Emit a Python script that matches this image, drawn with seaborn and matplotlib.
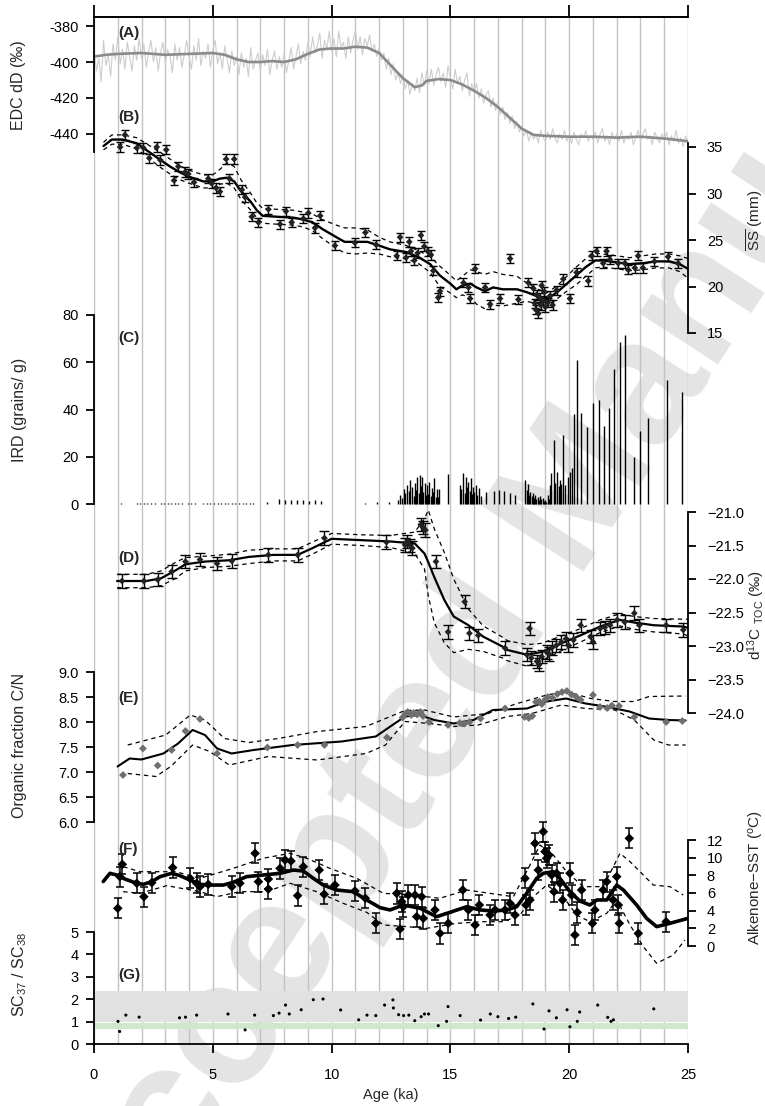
import numpy as np
import matplotlib
matplotlib.use('Agg')
import matplotlib.pyplot as plt
import seaborn as sns

# ---------------- DATA ----------------
# (A) EDC dD : smoothed curve and raw record (0.1 ka spacing)
a_age = [0, 0.5, 1, 2, 3, 4, 5, 5.5, 6, 6.5, 7, 7.5, 8, 8.5, 9, 9.5, 10, 10.5, 11, 11.5,
         12, 12.5, 13, 13.5, 13.8, 14, 14.5, 15, 15.5, 16, 16.5, 17, 17.5, 18, 18.5, 19,
         20, 21, 22, 23, 24, 25]
a_smooth = [-397, -396, -395.5, -395, -396, -395.5, -395, -396, -398.5, -400, -400, -399.5,
            -400, -398.5, -395.5, -393, -392.5, -392.5, -391.5, -392, -395, -402, -409, -414,
            -413, -410.5, -409.5, -410, -412.5, -416, -420, -425, -431, -437, -440.5, -441,
            -441.5, -441.5, -442, -441.5, -442.5, -444]
a_raw_step = 0.1
a_raw = [-392, -405, -398, -411, -388, -402, -396, -408, -390, -399,
         -386, -401, -393, -404, -389, -397, -405, -391, -399, -387,
         -398, -390, -403, -394, -388, -400, -392, -405, -395, -389,
         -401, -393, -397, -406, -390, -399, -392, -403, -396, -388,
         -397, -404, -391, -399, -387, -402, -394, -398, -390, -403,
         -393, -388, -401, -395, -404, -391, -398, -406, -394, -402,
         -397, -407, -395, -403, -398, -408, -392, -404, -399, -395,
         -405, -396, -402, -393, -407, -399, -394, -404, -397, -403,
         -395, -406, -399, -392, -404, -397, -390, -401, -394, -399,
         -389, -397, -386, -395, -391, -384, -398, -388, -393, -383,
         -394, -387, -397, -383, -392, -389, -398, -386, -395, -388,
         -382, -393, -386, -396, -387, -391, -385, -394, -390, -397,
         -392, -399, -395, -404, -398, -407, -401, -410, -406, -412,
         -407, -415, -410, -418, -412, -416, -409, -417, -406, -413,
         -405, -412, -404, -413, -407, -403, -411, -406, -414, -402,
         -409, -415, -404, -412, -408, -416, -410, -406, -419, -412,
         -417, -412, -420, -415, -423, -418, -416, -425, -420, -427,
         -422, -429, -425, -432, -428, -434, -430, -437, -433, -439,
         -436, -441, -438, -444, -439, -443, -440, -445, -438, -442,
         -444, -439, -443, -437, -442, -445, -440, -443, -438, -444,
         -441, -445, -439, -443, -446, -440, -442, -438, -444, -441,
         -443, -439, -445, -440, -437, -444, -441, -446, -439, -443,
         -440, -444, -438, -445, -441, -443, -439, -446, -442, -438,
         -444, -440, -437, -443, -441, -446, -439, -442, -445, -440,
         -443, -439, -446, -441, -444, -438, -445, -442, -447, -441, -444]

# (B) sortable silt mean
ss_age = [1.1, 1.3, 1.8, 2.08, 2.33, 2.64, 2.79, 3.04, 3.37, 3.55, 3.83, 3.97, 4.21, 4.81, 4.95,
          5.14, 5.3, 5.56, 5.7, 5.9, 6.22, 6.36, 6.64, 6.92, 7.34, 7.83, 8.08, 8.32, 8.81, 9.02,
          9.3, 9.52, 10.14, 10.98, 11.42, 11.87, 12.74, 12.88, 13.13, 13.27, 13.34, 13.48, 13.62,
          13.76, 13.9, 14.04, 14.18, 14.28, 14.49, 14.56, 15.55, 15.76, 15.83, 16.04, 16.46,
          16.67, 17.09, 17.51, 17.86, 18.28, 18.49, 18.55, 18.6, 18.63, 18.7, 18.75, 18.8, 18.84,
          18.9, 18.95, 19.0, 19.1, 19.2, 19.3, 19.47, 19.75, 20.03, 20.31, 20.8, 20.94, 21.15,
          21.43, 21.57, 21.71, 22.06, 22.34, 22.48, 22.76, 22.9, 23.1, 23.59, 24.16, 24.58]
ss_val = [35.0, 36.3, 34.9, 34.9, 33.8, 35.0, 33.6, 34.7, 31.4, 32.9, 32.3, 32.1, 31.2, 31.6, 31.1,
          30.6, 30.2, 33.7, 31.6, 33.7, 30.4, 29.6, 27.5, 26.9, 28.3, 26.7, 28.1, 26.9, 27.3, 27.9,
          26.3, 27.6, 24.4, 24.7, 25.8, 24.5, 23.3, 25.3, 23.1, 24.8, 23.8, 22.8, 23.6, 25.5, 24.3,
          23.8, 23.4, 21.7, 18.8, 19.5, 20.4, 19.9, 18.7, 21.9, 19.9, 18.1, 18.7, 23.0, 18.6, 20.4,
          19.8, 18.2, 17.5, 19.1, 17.1, 18.8, 18.0, 20.1, 18.5, 19.4, 17.8, 18.3, 19.0, 18.0, 19.6,
          20.8, 18.7, 21.5, 20.6, 23.3, 23.8, 22.5, 23.8, 22.9, 22.5, 22.5, 21.8, 22.0, 23.3, 22.0,
          22.7, 23.2, 22.5]
ss_err = 0.5
ssl_age = [0.4, 0.75, 1.2, 1.8, 2.3, 2.8, 3.2, 3.6, 4.0, 4.6, 5.0, 5.3, 5.6, 5.9, 6.2, 6.6, 6.85,
           7.1, 7.7, 8.4, 8.8, 9.2, 9.6, 10.2, 10.55, 11.0, 11.5, 12.0, 12.45, 13.15, 13.7, 14.15,
           14.55, 15.0, 15.25, 15.5, 15.85, 16.1, 16.45, 16.8, 17.2, 17.8, 18.2, 18.6, 19.05, 19.5,
           19.9, 20.3, 20.7, 21.1, 21.4, 22.0, 22.55, 23.1, 23.65, 24.2, 24.65, 25.0]
ssl_mid = [35.1, 35.8, 35.8, 35.4, 34.5, 33.6, 32.9, 32.3, 31.8, 31.3, 31.3, 31.6, 31.7, 31.3, 30.2,
           29.1, 28.2, 27.6, 27.5, 27.4, 27.2, 26.9, 26.2, 25.3, 24.8, 24.8, 24.8, 24.4, 24.0, 23.7,
           23.1, 22.4, 21.2, 20.3, 19.7, 20.1, 20.3, 19.9, 19.5, 19.9, 19.7, 19.7, 19.4, 19.0, 18.6,
           19.4, 20.3, 21.2, 22.1, 22.8, 22.8, 22.6, 22.4, 22.5, 22.7, 22.7, 22.4, 21.9]
ssl_hi = [35.5, 36.3, 36.3, 36.0, 35.2, 34.4, 33.7, 33.0, 32.5, 32.0, 32.0, 32.6, 33.3, 32.9, 31.4,
          30.0, 29.0, 28.4, 28.3, 28.2, 28.0, 27.8, 27.2, 26.6, 26.3, 26.3, 26.1, 25.3, 24.8, 24.4,
          23.8, 23.2, 22.2, 21.2, 20.6, 21.1, 21.8, 21.6, 21.3, 21.6, 21.3, 21.1, 20.4, 19.8, 19.3,
          20.1, 21.1, 22.1, 23.0, 23.6, 23.5, 23.3, 23.1, 23.3, 23.5, 23.5, 23.3, 23.0]
ssl_lo = [34.7, 35.3, 35.3, 34.8, 33.8, 32.8, 32.1, 31.5, 31.1, 30.6, 30.6, 31.0, 31.1, 30.6, 29.3,
          28.2, 27.4, 26.8, 26.7, 26.6, 26.4, 26.0, 25.2, 24.1, 23.6, 23.5, 23.6, 23.5, 23.2, 23.0,
          22.4, 21.5, 20.0, 19.3, 18.8, 19.1, 18.8, 18.1, 17.6, 18.0, 17.9, 18.2, 18.4, 18.2, 17.9,
          18.7, 19.5, 20.2, 21.1, 22.0, 22.1, 21.9, 21.7, 21.8, 22.0, 22.0, 21.6, 20.9]

# (C) IRD
ird_age = [1.15, 1.8, 1.95, 2.1, 2.25, 2.4, 2.55, 2.8, 2.95, 3.1, 3.25, 3.4, 3.55, 3.7, 3.95, 4.1,
           4.25, 4.6, 4.75, 4.9, 5.05, 5.2, 5.35, 5.5, 5.65, 5.8, 5.95, 6.1, 6.25, 6.4, 6.55, 6.7,
           7.3, 7.8, 8.05, 8.3, 8.55, 8.8, 9.05, 9.3, 9.55, 11.4, 11.9, 12.4,
           12.78, 12.88, 12.95, 13.03, 13.11, 13.19, 13.25, 13.3, 13.4, 13.45, 13.5, 13.55, 13.6,
           13.66, 13.71, 13.76, 13.81, 13.86, 13.91, 13.96, 14.02, 14.07, 14.12, 14.17, 14.22,
           14.27, 14.32, 14.38, 14.43, 14.48, 14.53,
           14.9, 15.39, 15.45, 15.51, 15.6, 15.66, 15.71, 15.76, 15.81, 15.86, 15.91, 15.96, 16.01,
           16.07, 16.14, 16.21, 16.3, 16.48, 16.85, 17.05, 17.26, 17.51, 17.71,
           18.16, 18.21, 18.27, 18.32, 18.37, 18.42, 18.47, 18.52, 18.57, 18.62, 18.68, 18.73,
           18.78, 18.83, 18.88, 18.93, 18.98, 19.03, 19.09, 19.14, 19.19, 19.25, 19.36, 19.42,
           19.5, 19.55, 19.6, 19.66, 19.72, 19.83, 19.93, 20.03, 20.12, 20.22, 20.34, 20.51,
           20.77, 21.0, 21.25, 21.47, 21.68, 21.88, 22.13, 22.33, 22.74, 22.97, 23.32, 24.1, 24.76]
ird_val = [0.6, 0.5, 0.6, 0.5, 0.6, 0.5, 0.6, 0.5, 0.6, 0.5, 0.6, 0.5, 0.6, 0.5, 0.6, 0.5,
           0.6, 0.5, 0.6, 0.5, 0.6, 0.5, 0.6, 0.5, 0.6, 0.5, 0.6, 0.5, 0.6, 0.5, 0.6, 0.5,
           0.8, 2.0, 1.6, 1.8, 1.5, 1.9, 1.4, 1.7, 1.3, 0.6, 0.7, 0.8,
           1.7, 3.8, 2.5, 6.3, 4.5, 8.0, 5.5, 10.2, 7.2, 3.5, 9.0, 6.0, 11.4,
           4.8, 12.3, 7.5, 11.4, 5.2, 9.0, 3.9, 8.0, 4.4, 9.3, 3.3, 6.8,
           5.0, 11.0, 2.8, 6.3, 3.0, 6.3,
           12.7, 8.0, 6.5, 13.1, 4.5, 11.4, 7.0, 9.3, 5.5, 11.0, 4.2, 7.2, 5.0,
           8.0, 4.0, 6.8, 3.5, 5.1, 5.5, 5.9, 5.5, 4.7, 3.8,
           10.2, 6.0, 8.5, 4.0, 5.1, 3.2, 4.7, 2.6, 3.8, 2.2, 3.0, 1.8,
           3.4, 2.0, 2.5, 1.2, 1.7, 1.0, 3.8, 2.2, 8.0, 13.0, 27.0, 9.0,
           13.5, 7.5, 10.2, 8.3, 29.0, 8.0, 11.4, 13.5, 15.2, 38.0, 61.0, 38.5,
           32.6, 42.7, 44.0, 33.0, 40.6, 57.0, 68.6, 71.5, 19.9, 30.9, 36.4, 52.5, 47.4]

# (D) d13C TOC
d13_age = [1.18, 2.1, 2.68, 3.27, 3.85, 4.46, 5.18, 5.8, 7.34, 8.57, 9.7, 12.31, 13.09, 13.19,
           13.3, 13.4, 13.75, 13.85, 13.95, 14.39, 14.9, 15.6, 15.8, 16.17, 17.3, 18.22, 18.33,
           18.4, 18.64, 18.74, 18.84, 19.05, 19.15, 19.26, 19.46, 19.67, 19.87, 19.97, 20.18,
           20.48, 20.9, 21.0, 21.3, 21.5, 21.72, 22.02, 22.33, 22.74, 22.95, 24.08, 24.8]
d13_val = [-22.03, -22.03, -22.01, -21.89, -21.74, -21.71, -21.77, -21.73, -21.64, -21.64,
           -21.39, -21.45, -21.49, -21.44, -21.50, -21.54, -21.19, -21.23, -21.27, -21.74,
           -22.79, -22.34, -22.81, -22.84, -23.03, -23.13, -22.74, -23.18, -23.23, -23.28,
           -23.16, -23.09, -23.12, -23.03, -22.99, -22.94, -22.89, -22.99, -22.91, -22.69,
           -22.86, -22.94, -22.74, -22.72, -22.69, -22.61, -22.64, -22.51, -22.69, -22.69, -22.76]
d13_err = 0.1
d13l_age = [0.97, 2.2, 2.82, 3.44, 3.85, 4.67, 5.7, 6.52, 7.55, 8.57, 9.19, 10.0, 11.24, 12.48,
            13.5, 13.91, 14.07, 14.32, 14.74, 15.14, 15.76, 16.38, 17.2, 17.4, 18.22, 18.84,
            19.67, 20.48, 21.3, 22.13, 22.74, 23.56, 24.8, 25.0]
d13l_mid = [-22.03, -22.03, -21.99, -21.87, -21.78, -21.74, -21.72, -21.67, -21.64, -21.64,
            -21.54, -21.40, -21.42, -21.44, -21.47, -21.62, -21.75, -21.97, -22.31, -22.56,
            -22.69, -22.86, -23.01, -23.06, -23.13, -23.09, -22.96, -22.84, -22.71, -22.61,
            -22.65, -22.69, -22.71, -22.73]
d13l_hi = [-21.93, -21.93, -21.88, -21.75, -21.68, -21.66, -21.63, -21.57, -21.55, -21.55,
           -21.45, -21.32, -21.34, -21.35, -21.30, -21.10, -20.97, -21.25, -21.6, -22.0,
           -22.45, -22.7, -22.87, -22.92, -22.98, -22.96, -22.85, -22.74, -22.61, -22.52,
           -22.56, -22.59, -22.6, -22.6]
d13l_lo = [-22.13, -22.13, -22.1, -21.99, -21.88, -21.83, -21.81, -21.77, -21.73, -21.73,
           -21.63, -21.48, -21.5, -21.53, -21.62, -21.85, -22.25, -22.65, -22.95, -23.1,
           -23.05, -23.08, -23.18, -23.22, -23.3, -23.22, -23.07, -22.94, -22.8, -22.7,
           -22.75, -22.79, -22.82, -22.85]

# (E) organic C/N
cn_age = [1.22, 2.06, 2.68, 3.27, 3.85, 4.46, 5.18, 7.3, 8.57, 9.7, 12.33, 12.99, 13.1, 13.2,
          13.35, 13.45, 13.6, 13.75, 13.85, 14.1, 14.9, 15.4, 15.6, 15.8, 16.27, 17.3, 18.12,
          18.3, 18.45, 18.6, 18.74, 18.85, 19.0, 19.1, 19.3, 19.5, 19.7, 19.9, 20.1, 20.3, 20.48,
          21.0, 21.3, 21.6, 21.8, 22.1, 22.74, 24.08, 24.76]
cn_val = [6.94, 7.47, 7.13, 7.44, 7.82, 8.06, 7.37, 7.49, 7.54, 7.54, 7.69, 8.09, 8.16, 8.2,
          8.14, 8.18, 8.15, 8.2, 8.12, 8.0, 7.94, 7.98, 7.97, 8.0, 8.07, 8.27, 8.1, 8.08, 8.12,
          8.4, 8.41, 8.36, 8.45, 8.5, 8.48, 8.56, 8.6, 8.62, 8.55, 8.5, 8.44, 8.54, 8.3, 8.28,
          8.33, 8.32, 8.1, 8.0, 8.02]
cnl_age = [0.99, 1.5, 2.0, 2.92, 3.54, 4.15, 4.67, 5.18, 5.79, 6.72, 8.36, 10.42, 11.86, 12.47,
           13.09, 13.71, 14.32, 15.14, 15.97, 16.79, 18.22, 19.05, 19.87, 20.69, 21.51, 22.54,
           23.36, 24.18, 24.9]
cnl_mid = [7.11, 7.27, 7.25, 7.37, 7.57, 7.84, 7.74, 7.47, 7.37, 7.44, 7.54, 7.61, 7.71, 7.91,
           8.11, 8.14, 8.04, 7.97, 8.04, 8.24, 8.27, 8.41, 8.47, 8.37, 8.31, 8.21, 8.07, 8.04, 8.03]
cnu_age = [1.42, 3.02, 4.05, 4.67, 5.49, 6.52, 7.75, 9.4, 11.45, 12.47, 13.09, 13.91, 15.14,
           16.58, 17.81, 19.05, 19.87, 20.9, 21.92, 22.74, 23.36, 24.9]
cnu_val = [7.54, 7.74, 8.14, 8.04, 7.67, 7.59, 7.67, 7.81, 7.91, 8.11, 8.23, 8.24, 8.1, 8.17,
           8.37, 8.54, 8.61, 8.47, 8.41, 8.41, 8.51, 8.52]
cnd_age = [1.42, 2.61, 3.23, 4.15, 4.87, 5.69, 7.34, 9.4, 11.45, 12.27, 13.09, 14.12, 15.14,
           16.17, 17.4, 18.43, 19.67, 20.69, 21.92, 22.74, 23.56, 24.18, 24.9]
cnd_val = [6.97, 6.91, 7.11, 7.54, 7.41, 7.14, 7.31, 7.24, 7.37, 7.54, 8.01, 7.97, 7.91, 7.94,
           8.11, 8.17, 8.34, 8.27, 8.24, 8.04, 7.64, 7.54, 7.54]

# (F) alkenone SST
sst_age = [1.0, 1.09, 1.19, 1.8, 2.1, 2.43, 3.31, 4.04, 4.32, 4.46, 4.81, 5.8, 6.14, 6.78, 6.92,
           7.34, 7.34, 7.83, 8.04, 8.29, 8.57, 8.81, 9.48, 9.69, 10.14, 10.98, 11.42, 11.86,
           12.74, 12.88, 12.95, 13.02, 13.23, 13.51, 13.58, 13.79, 13.86, 14.35, 14.56, 14.91,
           15.52, 15.76, 16.04, 16.22, 16.67, 16.88, 17.3, 17.51, 17.72, 18.14, 18.18, 18.35,
           18.56, 18.7, 18.91, 18.98, 19.05, 19.15, 19.26, 19.36, 19.47, 19.61, 19.72, 20.03,
           20.1, 20.24, 20.34, 20.52, 20.98, 21.08, 21.43, 21.58, 21.85, 22.0, 22.07, 22.11,
           22.53, 22.91, 24.08]
sst_val = [4.27, 7.85, 9.25, 7.1, 5.58, 7.17, 8.87, 7.66, 7.1, 6.72, 6.98, 6.72, 7.1, 10.49, 7.28,
           7.58, 6.45, 8.79, 9.74, 9.62, 5.7, 8.98, 8.6, 5.85, 6.9, 6.23, 5.4, 2.57, 5.96, 1.92,
           5.02, 4.45, 5.77, 5.77, 3.32, 5.58, 3.13, 4.08, 1.43, 2.57, 6.34, 4.08, 2.38, 4.64,
           3.51, 4.08, 4.08, 4.83, 3.51, 7.66, 4.64, 5.21, 11.62, 8.6, 12.94, 10.68, 9.93, 10.3,
           8.04, 6.15, 8.23, 7.1, 5.21, 8.23, 5.77, 1.25, 3.81, 6.34, 2.57, 4.08, 6.34, 7.28,
           5.21, 7.85, 4.64, 2.57, 12.19, 1.43, 2.75]
sst_err = 1.15
sstl_age = [0.39, 0.67, 0.95, 1.3, 1.8, 2.08, 2.43, 2.78, 3.27, 3.62, 4.04, 4.46, 4.88, 5.44,
            5.86, 6.42, 7.12, 7.83, 8.39, 8.81, 9.23, 9.65, 10.21, 10.91, 11.48, 12.04, 12.46,
            13.02, 13.72, 14.42, 14.98, 15.69, 16.25, 16.81, 17.37, 17.79, 18.21, 18.63, 18.91,
            19.33, 19.61, 20.03, 20.45, 20.87, 21.16, 21.58, 22.0, 22.28, 22.84, 23.26, 23.68,
            24.24, 25.0]
sstl_mid = [7.3, 8.23, 8.04, 7.58, 7.1, 6.98, 7.28, 7.85, 8.23, 7.96, 7.47, 6.98, 6.9, 6.9, 7.21,
            7.85, 8.04, 8.23, 8.6, 8.49, 7.66, 6.9, 6.34, 6.15, 5.21, 4.34, 4.08, 4.64, 4.27, 3.32,
            3.81, 4.45, 4.08, 3.96, 4.08, 4.45, 5.96, 7.66, 8.23, 8.41, 7.66, 6.15, 5.09, 4.64,
            5.21, 5.21, 6.9, 6.34, 4.64, 3.13, 2.19, 2.57, 3.13]
sstu_age = [1.23, 1.94, 3.45, 4.46, 5.86, 7.12, 8.25, 8.95, 9.93, 11.06, 12.18, 13.3, 14.56,
            15.69, 16.67, 17.65, 18.35, 18.77, 19.33, 19.89, 20.59, 21.43, 22.14, 22.56, 23.54,
            24.24, 24.8]
sstu_val = [8.98, 8.41, 8.41, 7.66, 8.79, 9.93, 10.49, 9.93, 8.79, 7.66, 5.96, 5.8, 5.4, 6.34,
            5.96, 5.58, 9.17, 11.43, 10.3, 8.41, 6.72, 6.72, 10.49, 9.55, 6.9, 6.72, 5.77]
sstd_age = [1.23, 1.94, 3.06, 4.46, 5.16, 6.14, 7.27, 8.25, 9.37, 10.49, 11.48, 12.18, 13.16,
            14.0, 15.27, 16.39, 17.23, 17.93, 18.49, 19.05, 19.75, 20.31, 20.87, 21.58, 22.0,
            22.56, 23.12, 23.68, 24.38, 24.87]
sstd_val = [6.15, 5.96, 6.83, 6.15, 5.58, 6.15, 6.15, 7.1, 6.15, 4.83, 3.81, 2.38, 2.19, 2.0,
            2.57, 2.75, 2.75, 3.51, 5.58, 6.9, 5.58, 3.51, 2.75, 3.7, 5.21, 2.38, -0.08, -1.96,
            -1.02, 0.68]

# (G) SC37 / SC38
g_age = [1.01, 1.08, 1.34, 1.9, 3.6, 3.85, 4.32, 5.64, 6.36, 6.76, 7.55, 7.79, 8.06, 8.22, 8.72,
         9.23, 9.64, 10.38, 11.14, 11.49, 11.86, 12.23, 12.58, 12.6, 12.82, 13.03, 13.25, 13.5,
         13.77, 13.91, 14.08, 14.49, 14.84, 14.9, 15.41, 16.27, 16.68, 17.0, 17.45, 17.75, 18.47,
         18.94, 19.15, 19.46, 19.91, 20.03, 20.34, 20.44, 21.2, 21.62, 21.76, 21.86, 23.56]
g_val = [1.01, 0.56, 1.29, 1.2, 1.17, 1.2, 1.29, 1.34, 0.63, 1.29, 1.27, 1.38, 1.74, 1.34, 1.53,
         1.98, 2.01, 1.52, 1.08, 1.29, 1.27, 1.74, 1.97, 1.61, 1.31, 1.27, 1.29, 1.04, 1.22, 1.34,
         1.34, 0.82, 1.01, 1.67, 1.27, 1.07, 1.34, 1.22, 1.14, 1.2, 1.79, 0.67, 1.48, 1.17, 1.53,
         0.77, 1.01, 1.43, 1.74, 1.19, 1.01, 1.08, 1.57]
g_band_gray = [0.99, 2.37]
g_band_green = [0.68, 0.93]

x_ticks = [0, 5, 10, 15, 20, 25]

# ---------------- STYLE / LAYOUT ----------------
sns.set_theme(style='ticks')
plt.rcParams['font.family'] = ['Liberation Sans', 'DejaVu Sans']
plt.rcParams['mathtext.fontset'] = 'custom'
plt.rcParams['mathtext.rm'] = 'Liberation Sans'
plt.rcParams['mathtext.it'] = 'Liberation Sans:italic'
plt.rcParams['mathtext.bf'] = 'Liberation Sans:bold'
plt.rcParams['axes.unicode_minus'] = False

W, H = 765, 1106
X0, X1 = 94, 688
Y0, Y1 = 17, 1044
fig = plt.figure(figsize=(W / 100, H / 100), dpi=100)
fig.patch.set_facecolor('white')
rect = [X0 / W, 1 - Y1 / H, (X1 - X0) / W, (Y1 - Y0) / H]

# watermark
fig.text(566 / W, 1 - 515 / H, 'Accepted Manuscript', rotation=57, fontsize=128,
         fontweight='bold', color='#e4e4e4', ha='center', va='center',
         rotation_mode='anchor', zorder=-1)

SPW = 1.3
TXT = 10.5

# background axis: vertical grid, top & bottom spines
ax0 = fig.add_axes(rect, facecolor='none')
ax0.set_xlim(0, 25)
ax0.set_ylim(0, 1)
for k in range(26):
    ax0.axvline(k, color='#c2c2c2', lw=1.0, zorder=0)
for s in ['left', 'right']:
    ax0.spines[s].set_visible(False)
for s in ['top', 'bottom']:
    ax0.spines[s].set_visible(True)
    ax0.spines[s].set_linewidth(SPW)
    ax0.spines[s].set_color('black')
ax0.set_yticks([])
ax0.set_xticks(x_ticks)
ax0.set_xticklabels([str(t) for t in x_ticks])
ax0.tick_params(axis='x', bottom=True, top=False, direction='out', length=6.5, width=SPW,
                labelsize=TXT, pad=11, colors='black')
secx = ax0.secondary_xaxis('top')
secx.set_xticks(x_ticks)
secx.set_xticklabels([])
secx.tick_params(axis='x', direction='out', length=8.5, width=SPW, colors='black')
secx.spines['top'].set_linewidth(SPW)


def panel(v1, p1, v2, p2, side, bounds, ticks, labels=None, pad=5):
    ax = fig.add_axes(rect, facecolor='none')
    s = (v2 - v1) / (p2 - p1)
    ax.set_ylim(v1 + (Y1 - p1) * s, v1 + (Y0 - p1) * s)
    ax.set_xlim(0, 25)
    for sp in ax.spines.values():
        sp.set_visible(False)
    ax.set_xticks([])
    ax.spines[side].set_visible(True)
    ax.spines[side].set_bounds(*bounds)
    ax.spines[side].set_linewidth(SPW)
    ax.spines[side].set_color('black')
    if side == 'right':
        ax.yaxis.tick_right()
    else:
        ax.yaxis.tick_left()
    ax.set_yticks(ticks)
    if labels is not None:
        ax.set_yticklabels(labels)
    ax.tick_params(axis='y', direction='out', length=6, width=SPW, labelsize=TXT,
                   pad=pad, colors='black')
    return ax


DASH = (0, (3.5, 3))

# (A)
axA = panel(-380, 26, -440, 134, 'left', (-450, -375), [-440, -420, -400, -380],
            ['-440', '-420', '-400', '-380'])
raw_x = np.arange(len(a_raw)) * a_raw_step
sns.lineplot(x=raw_x, y=a_raw, ax=axA, color='#cdcdcd', lw=0.8, estimator=None, sort=False)
sns.lineplot(x=a_age, y=a_smooth, ax=axA, color='#8a8a8a', lw=1.9, estimator=None, sort=False)

# (B)
axB = panel(35, 147, 15, 333, 'right', (15, 35.4), [15, 20, 25, 30, 35], pad=7.5)
sns.lineplot(x=ssl_age, y=ssl_hi, ax=axB, color='black', lw=0.9, linestyle=DASH, estimator=None)
sns.lineplot(x=ssl_age, y=ssl_lo, ax=axB, color='black', lw=0.9, linestyle=DASH, estimator=None)
sns.lineplot(x=ssl_age, y=ssl_mid, ax=axB, color='black', lw=1.7, estimator=None)
axB.errorbar(ss_age, ss_val, yerr=ss_err, fmt='none', ecolor='black', elinewidth=1.0,
             capsize=3, capthick=1.0)
sns.scatterplot(x=ss_age, y=ss_val, ax=axB, marker='D', s=12, color='#222222',
                edgecolor='none', legend=False, zorder=5)

# (C)
axC = panel(80, 315, 0, 504, 'left', (0, 80), [0, 20, 40, 60, 80])
axC.vlines(ird_age, 0, ird_val, color='black', lw=1.0)

# (D)
d_ticks = [-24.0, -23.5, -23.0, -22.5, -22.0, -21.5, -21.0]
axD = panel(-21.0, 512, -24.0, 713, 'right', (-24.0, -21.0), d_ticks,
            ['\u2212%.1f' % abs(t) for t in d_ticks], pad=7.5)
sns.lineplot(x=d13l_age, y=d13l_hi, ax=axD, color='black', lw=0.9, linestyle=DASH, estimator=None)
sns.lineplot(x=d13l_age, y=d13l_lo, ax=axD, color='black', lw=0.9, linestyle=DASH, estimator=None)
sns.lineplot(x=d13l_age, y=d13l_mid, ax=axD, color='black', lw=1.6, estimator=None)
axD.errorbar(d13_age, d13_val, yerr=d13_err, fmt='none', ecolor='black', elinewidth=1.0,
             capsize=3.8, capthick=1.0)
sns.scatterplot(x=d13_age, y=d13_val, ax=axD, marker='D', s=12, color='#222222',
                edgecolor='none', legend=False, zorder=5)

# (E)
e_ticks = [6.0, 6.5, 7.0, 7.5, 8.0, 8.5, 9.0]
axE = panel(9.0, 672, 6.0, 822, 'left', (6.0, 9.0), e_ticks, ['%.1f' % t for t in e_ticks])
sns.lineplot(x=cnu_age, y=cnu_val, ax=axE, color='black', lw=0.9, linestyle=DASH, estimator=None)
sns.lineplot(x=cnd_age, y=cnd_val, ax=axE, color='black', lw=0.9, linestyle=DASH, estimator=None)
sns.lineplot(x=cnl_age, y=cnl_mid, ax=axE, color='black', lw=1.5, estimator=None)
sns.scatterplot(x=cn_age, y=cn_val, ax=axE, marker='D', s=16, color='#6f6f6f',
                edgecolor='none', legend=False, zorder=5)

# (F)
axF = panel(12, 840, 0, 946, 'right', (0, 12), [0, 2, 4, 6, 8, 10, 12], pad=7.5)
sns.lineplot(x=sstu_age, y=sstu_val, ax=axF, color='black', lw=0.9, linestyle=DASH, estimator=None)
sns.lineplot(x=sstd_age, y=sstd_val, ax=axF, color='black', lw=0.9, linestyle=DASH, estimator=None)
sns.lineplot(x=sstl_age, y=sstl_mid, ax=axF, color='black', lw=2.6, estimator=None)
axF.errorbar(sst_age, sst_val, yerr=sst_err, fmt='none', ecolor='black', elinewidth=1.1,
             capsize=3.2, capthick=1.1)
sns.scatterplot(x=sst_age, y=sst_val, ax=axF, marker='D', s=24, color='black',
                edgecolor='none', legend=False, zorder=5)

# (G)
axG = panel(5, 933, 0, 1045, 'left', (0, 5), [0, 1, 2, 3, 4, 5])
axG.axhspan(g_band_gray[0], g_band_gray[1], xmin=0, xmax=1, color='#e1e1e1', lw=0, zorder=0)
axG.axhspan(g_band_green[0], g_band_green[1], xmin=0, xmax=1, color='#cfe6cf', lw=0, zorder=0)
sns.scatterplot(x=g_age, y=g_val, ax=axG, marker='o', s=5, color='black',
                edgecolor='none', legend=False, zorder=5)

for ax in [axA, axB, axC, axD, axE, axF, axG]:
    ax.set_xlabel('')
    ax.set_ylabel('')

# panel letters
for lab, yy in [('(A)', 33), ('(B)', 117), ('(C)', 338), ('(D)', 558), ('(E)', 698),
                ('(F)', 849), ('(G)', 975)]:
    fig.text(118 / W, 1 - yy / H, lab, fontsize=11, fontweight='bold', ha='left', va='center')

# axis titles
LBL = 11.5
fig.text(19 / W, 1 - 85 / H, 'EDC dD (\u2030)', rotation=90, ha='center', va='center', fontsize=LBL)
fig.text(20 / W, 1 - 410 / H, 'IRD (grains/ g)', rotation=90, ha='center', va='center', fontsize=LBL)
fig.text(20 / W, 1 - 745 / H, 'Organic fraction C/N', rotation=90, ha='center', va='center', fontsize=LBL)
fig.text(20 / W, 1 - 975 / H, 'SC$_{37}$ / SC$_{38}$', rotation=90, ha='center', va='center', fontsize=LBL)
fig.text(755 / W, 1 - 220 / H, '$\\overline{\\mathrm{SS}}$ (mm)', rotation=90, ha='center', va='center', fontsize=11)
fig.text(756 / W, 1 - 615 / H, 'd$^{13}$C $_{\\mathrm{TOC}}$ (\u2030)', rotation=90, ha='center', va='center', fontsize=11)
fig.text(756 / W, 1 - 877 / H, 'Alkenone\u2212SST ($^{\\mathrm{o}}$C)', rotation=90, ha='center', va='center', fontsize=11)
fig.text((X0 + X1) / 2 / W, 1 - 1095 / H, 'Age (ka)', ha='center', va='center', fontsize=TXT)

fig.savefig('out.png', dpi=100, facecolor='white')
